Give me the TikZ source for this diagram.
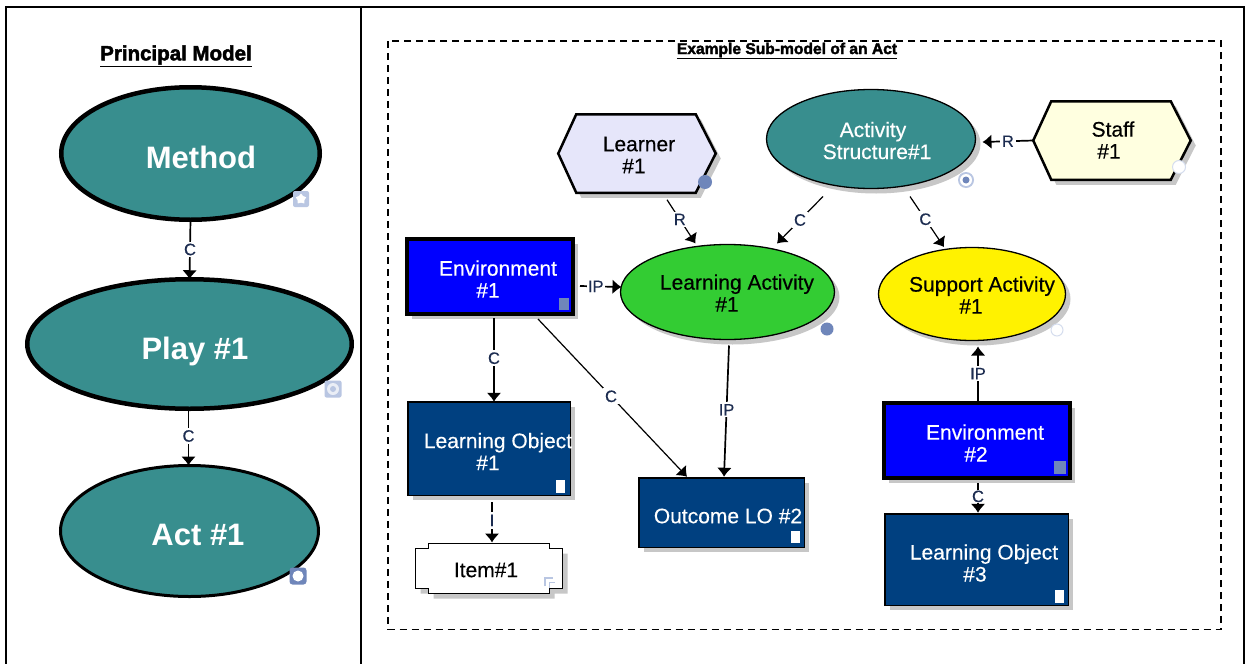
\documentclass[tikz,border=0pt]{standalone}
\usepackage{fontspec}
\setmainfont[FakeBold=0.35,BoldFont=* Bold,BoldFeatures={FakeBold=0}]{Liberation Sans}
\newfontfamily\heavyfont[UprightFont=* Bold,FakeBold=2.2]{Liberation Sans}
\usetikzlibrary{arrows.meta,shapes.geometric,shadows}
\definecolor{tealfill}{HTML}{388E8E}
\definecolor{navyfill}{HTML}{004080}
\definecolor{bluefill}{HTML}{0000FF}
\definecolor{greenfill}{HTML}{33CC33}
\definecolor{lavfill}{HTML}{E6E6FA}
\definecolor{creamfill}{HTML}{FFFFE0}
\definecolor{iconblue}{HTML}{6F86BA}
\definecolor{iconpale}{HTML}{B9C6E2}
\definecolor{lblcolor}{HTML}{1C2C50}
\tikzset{
  x=1pt,y=-1pt,
  shadowed/.style={drop shadow={shadow xshift=5pt,shadow yshift=-5pt,fill=black!22,opacity=1}},
  shapebase/.style={inner sep=0pt,outer sep=0pt},
  ell/.style={shapebase,draw=black,ellipse},
  boxy/.style={shapebase,draw=black,rectangle},
  ghost/.style={shapebase,rectangle},
  bigtxt/.style={font=\bfseries\fontsize{31}{32}\selectfont,text=white,inner sep=0pt},
  txt/.style={font=\fontsize{21}{22}\selectfont,align=center,inner sep=0pt},
  wtxt/.style={txt,text=white},
  lbl/.style={font=\fontsize{16.5}{17}\selectfont,text=lblcolor,fill=white,inner sep=2pt},
  conn/.style={draw=black,line width=1.7pt,-{Latex[length=9pt,width=15pt]}},
  thinconn/.style={draw=black,line width=1.2pt,-{Latex[length=9pt,width=15pt]}},
  frameline/.style={line width=2pt,draw=black},
}
\begin{document}
\begin{tikzpicture}
\useasboundingbox (0,0) rectangle (1251,664);
\fill[white] (0,0) rectangle (1251,664);
% frame
\draw[frameline] (6,664) -- (6,7) -- (1244,7) -- (1244,664);
\draw[frameline] (361,7) -- (361,664);
% dashed border
\draw[line width=1.7pt,dash pattern=on 7pt off 5pt] (388,41) rectangle (1221,629.5);
% titles
\node[inner sep=0pt] (title1) at (176,56) {\heavyfont\fontsize{20.5}{22}\selectfont\underline{Principal Model}};
\node[inner sep=0pt] (title2) at (787,51) {\heavyfont\fontsize{15.6}{17}\selectfont\underline{Example Sub-model of an Act}};
% principal model
\node[ell,fill=tealfill,line width=4.5pt,minimum width=258.5pt,minimum height=132.5pt] (method) at (190.5,153.5) {};
\node[ell,fill=tealfill,line width=4.5pt,minimum width=324.5pt,minimum height=129.5pt] (play) at (189.5,344) {};
\node[ell,fill=tealfill,line width=3pt,minimum width=258pt,minimum height=131pt] (act) at (189.5,531) {};
\node[bigtxt] (methodtxt) at (201,157) {Method};
\node[bigtxt] (playtxt) at (195,351) {Play \#1};
\node[bigtxt] (acttxt) at (198,535) {Act \#1};
% sub-model: ellipses
\node[ell,shadowed,fill=tealfill,line width=1.3pt,minimum width=209pt,minimum height=99pt] (actstruct) at (871,139) {};
\node[ell,shadowed,fill=greenfill,line width=1.3pt,minimum width=214pt,minimum height=95pt] (learning) at (727.5,292) {};
\node[ell,shadowed,fill=yellow,line width=1.3pt,minimum width=187pt,minimum height=93pt] (support) at (972,294) {};
% hexagons
\node[ghost,minimum width=157.5pt,minimum height=78.5pt] (learner) at (637,153.5) {};
\draw[shadowed,fill=lavfill,line width=2.5pt,line join=miter] (learner.west) -- ([xshift=18pt]learner.north west) -- ([xshift=-20pt]learner.north east) -- (learner.east) -- ([xshift=-20pt]learner.south east) -- ([xshift=18pt]learner.south west) -- cycle;
\node[ghost,minimum width=157.5pt,minimum height=78.5pt] (staff) at (1112,140.5) {};
\draw[shadowed,fill=creamfill,line width=2.5pt,line join=miter] (staff.west) -- ([xshift=18pt]staff.north west) -- ([xshift=-20pt]staff.north east) -- (staff.east) -- ([xshift=-20pt]staff.south east) -- ([xshift=18pt]staff.south west) -- cycle;
% boxes
\node[boxy,shadowed,fill=bluefill,line width=4pt,minimum width=166pt,minimum height=75pt] (env1) at (490,276.5) {};
\node[boxy,shadowed,fill=navyfill,line width=1.5pt,minimum width=162.5pt,minimum height=93.5pt] (lo1) at (489,448.5) {};
\node[boxy,shadowed,fill=navyfill,line width=1.5pt,minimum width=165.5pt,minimum height=69.5pt] (outcome) at (721.5,512.5) {};
\node[boxy,shadowed,fill=bluefill,line width=4pt,minimum width=186pt,minimum height=75pt] (env2) at (977,440.5) {};
\node[boxy,shadowed,fill=navyfill,line width=1.5pt,minimum width=183.5pt,minimum height=91.5pt] (lo3) at (976.5,559.5) {};
% item
\node[ghost,minimum width=147pt,minimum height=50pt] (item) at (489,568.5) {};
\draw[shadowed,fill=white,line width=1.5pt] ([yshift=-5pt]item.north west) -- ++(13,0) -- ++(0,-5) -- ([xshift=-13pt]item.north east) -- ++(0,5) -- ([yshift=-5pt]item.north east) -- ([yshift=5pt]item.south east) -- ++(-13,0) -- ++(0,5) -- ([xshift=13pt]item.south west) -- ++(0,-5) -- ([yshift=5pt]item.south west) -- cycle;
% labels inside shapes
\node[wtxt] (actstructtxt) at (877,140.5) {\hspace*{-8pt}Activity\\Structure\#1};
\node[txt] (learningtxt) at (737,293) {Learning Activity\\\hspace*{-20pt}\#1};
\node[txt] (supporttxt) at (982,295) {Support Activity\\\hspace*{-22pt}\#1};
\node[txt] (learnertxt) at (639,155) {Learner\\\hspace*{-10pt}\#1};
\node[txt] (stafftxt) at (1113,140) {Staff\\\hspace*{-8pt}\#1};
\node[wtxt] (env1txt) at (498,279) {Environment\\\hspace*{-20pt}\#1};
\node[wtxt] (lo1txt) at (498,451.5) {Learning Object\\\hspace*{-20pt}\#1};
\node[wtxt] (outcometxt) at (728,516) {Outcome LO \#2};
\node[wtxt] (env2txt) at (985,443) {Environment\\\hspace*{-18pt}\#2};
\node[wtxt] (lo3txt) at (984,563) {Learning Object\\\hspace*{-18pt}\#3};
\node[txt] (itemtxt) at (486,570) {Item\#1};
% icons
\fill[iconpale,rounded corners=2pt] (293,191) rectangle (309,207);
\node[star,star points=5,fill=white,inner sep=0pt,minimum size=11pt] (methodstar) at (301,199) {};
\fill[iconpale,rounded corners=2pt] (324.5,380.5) rectangle (341.5,397.5);
\fill[white!70!iconpale] (333,389) circle (6);
\fill[iconpale] (333,389) circle (3);
\fill[iconblue,rounded corners=3pt] (289.5,567.5) rectangle (306.5,584.5);
\fill[white] (298,576) circle (5.5);
\fill[iconpale] (966,180) circle (8);
\fill[white] (966,180) circle (6);
\fill[iconblue] (966,180) circle (3.5);
\fill[iconblue] (705,182) circle (7);
\fill[iconblue] (827,329) circle (6.5);
\filldraw[fill=white,draw=iconpale!60,line width=1pt] (1179,167) circle (6.5);
\filldraw[fill=white,draw=iconpale!60,line width=1pt] (1057,330) circle (6);
\fill[iconblue] (559,298) rectangle (569,310);
\fill[iconblue] (1054,460.5) rectangle (1066,473.5);
\fill[white] (556,480) rectangle (564.5,492.5);
\fill[white] (791,531) rectangle (799.5,543);
\fill[white] (1054.5,589.5) rectangle (1063.5,602.5);
\draw[iconpale,line width=1.3pt] (545,586) -- (545,578) -- (553,578);
\draw[iconpale,line width=1pt] (549,588) -- (549,582) -- (555,582);
% connectors
\draw[conn] (method.south) -- node[lbl,pos=.5] {C} (play.north);
\draw[conn] ([xshift=-1pt]play.south) -- node[lbl,pos=.48] {C} ([xshift=-1pt]act.north);
\draw[thinconn] ([shift={(30,7)}]learner.south) -- node[lbl,pos=.45] {R} ([shift={(-32,-1)}]learning.north);
\draw[thinconn] ([shift={(-48,8)}]actstruct.south) -- node[lbl,pos=.5] {C} ([shift={(49.5,-1)}]learning.north);
\draw[thinconn] ([shift={(39,8)}]actstruct.south) -- node[lbl,pos=.45] {C} ([shift={(-28,-0.5)}]support.north);
\draw[conn] (staff.west) -- node[lbl,pos=.5] {R} ([shift={(7,3)}]actstruct.east);
\draw[conn] ([shift={(7,9.5)}]env1.east) -- node[lbl,pos=.38,inner xsep=1pt] {IP} ([shift={(1,-5)}]learning.west);
\draw[conn] ([shift={(4,4)}]env1.south) -- node[lbl,pos=.48] {C} ([shift={(5,0)}]lo1.north);
\draw[thinconn] ([shift={(48,5)}]env1.south) -- node[lbl,pos=.49] {C} ([shift={(-34.5,-1)}]outcome.north);
\draw[conn] ([shift={(1.5,6)}]learning.south) -- node[lbl,pos=.49,inner xsep=1pt] {IP} ([shift={(2.5,-1)}]outcome.north);
\draw[conn] ([shift={(3,7)}]lo1.south) -- node[lbl,pos=.45,inner ysep=3pt,inner xsep=1pt] {I} ([shift={(3,-1)}]item.north);
\draw[conn] ([xshift=1pt]env2.north) -- node[lbl,pos=.52,inner xsep=1pt] {IP} ([shift={(6,6)}]support.south);
\draw[conn] ([shift={(1,5)}]env2.south) -- node[lbl,pos=.45,inner sep=1pt] {C} ([shift={(1.5,-1)}]lo3.north);
\end{tikzpicture}
\end{document}
